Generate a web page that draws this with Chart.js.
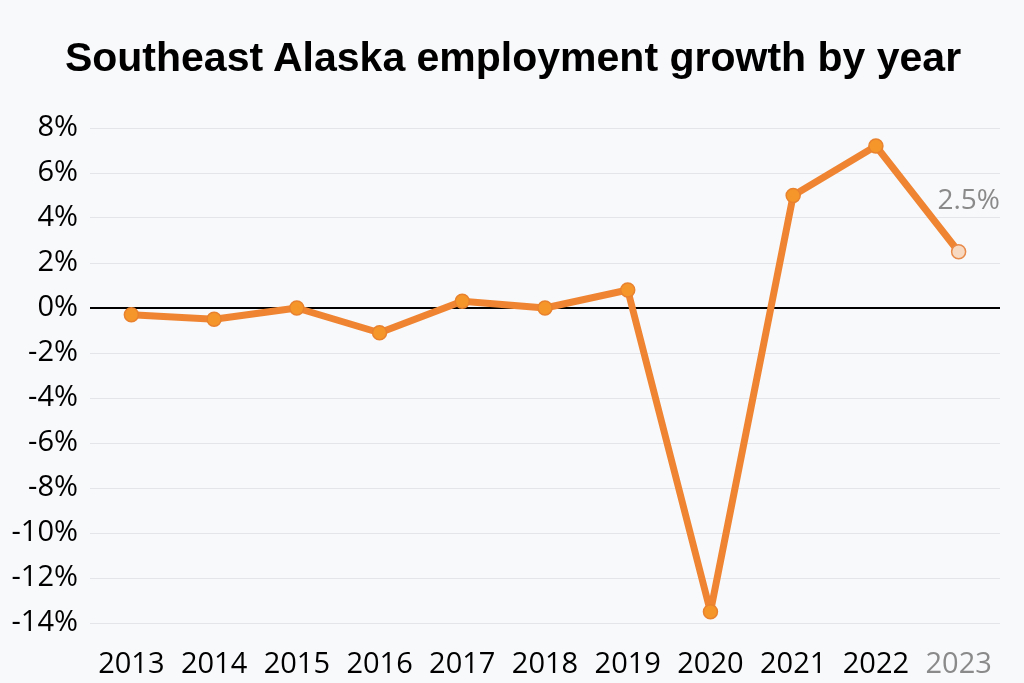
<!DOCTYPE html>
<html>
<head>
<meta charset="utf-8">
<script src="https://cdn.jsdelivr.net/npm/chart.js@4"></script>
<style>
  html, body { margin: 0; padding: 0; background: #f8f9fb; }
  #wrap { position: relative; width: 1024px; height: 683px; overflow: hidden; }
  #title {
    position: absolute; left: 0; top: 37px; width: 1026px; margin: 0;
    font: bold 41px/41px 'Liberation Sans', Arial, sans-serif;
    color: #000; text-align: center; white-space: nowrap;
  }
  canvas { position: absolute; left: 0; top: 0; }
</style>
</head>
<body>
<div id="wrap">
  <canvas id="chart" width="1024" height="683"></canvas>
  <h1 id="title">Southeast Alaska employment growth by year</h1>
</div>
<script>
const years = ["2013", "2014", "2015", "2016", "2017", "2018", "2019", "2020", "2021", "2022", "2023"];
const growth = [-0.3, -0.5, 0.0, -1.1, 0.3, 0.0, 0.8, -13.5, 5.0, 7.2, 2.5];
const yTicks = [-14, -12, -10, -8, -6, -4, -2, 0, 2, 4, 6, 8];
const lastLabel = "2.5%";

const orange = "#ef8532";
const lastIdx = growth.length - 1;

// label next to the latest point
const lastPointLabel = {
  id: "lastPointLabel",
  afterDatasetsDraw(chart) {
    const pt = chart.getDatasetMeta(0).data[lastIdx];
    if (!pt) return;
    const ctx = chart.ctx;
    ctx.save();
    ctx.font = "28px 'Open Sans'";
    ctx.fillStyle = "#8a8a8a";
    ctx.textAlign = "center";
    ctx.textBaseline = "middle";
    ctx.fillText(lastLabel, pt.x + 10, pt.y - 51);
    ctx.restore();
  }
};

new Chart(document.getElementById("chart"), {
  type: "line",
  data: {
    labels: years,
    datasets: [{
      data: growth,
      borderColor: orange,
      borderWidth: 7,
      borderJoinStyle: "round",
      tension: 0,
      pointRadius: 7,
      pointHoverRadius: 7,
      pointBorderWidth: 1.5,
      pointBackgroundColor: growth.map((v, i) => i === lastIdx ? "#f6d9c0" : "#f5962a"),
      pointBorderColor: growth.map((v, i) => i === lastIdx ? "#e88a4a" : "#e9822e")
    }]
  },
  options: {
    responsive: false,
    animation: false,
    layout: { padding: { left: 10, right: 24, top: 128, bottom: 8 } },
    plugins: {
      legend: { display: false },
      tooltip: { enabled: false },
      title: { display: false }
    },
    scales: {
      x: {
        offset: true,
        grid: { display: false },
        border: { display: false },
        afterFit: s => { s.height = 52; },
        ticks: {
          color: ctx => ctx.index === lastIdx ? "#8a8a8a" : "#000",
          font: { family: "'Open Sans'", size: 29 },
          padding: 16,
          maxRotation: 0,
          autoSkip: false
        }
      },
      y: {
        min: yTicks[0],
        max: yTicks[yTicks.length - 1],
        afterBuildTicks: axis => { axis.ticks = yTicks.map(v => ({ value: v })); },
        afterFit: s => { s.width = 80; },
        border: { display: false },
        grid: {
          drawTicks: false,
          color: ctx => ctx.tick && ctx.tick.value === 0 ? "#000" : "#e4e5e8",
          lineWidth: ctx => ctx.tick && ctx.tick.value === 0 ? 2 : 1
        },
        ticks: {
          color: "#000",
          font: { family: "'Open Sans'", size: 29 },
          padding: 12,
          callback: v => v + "%"
        }
      }
    }
  },
  plugins: [lastPointLabel]
});
</script>
</body>
</html>
